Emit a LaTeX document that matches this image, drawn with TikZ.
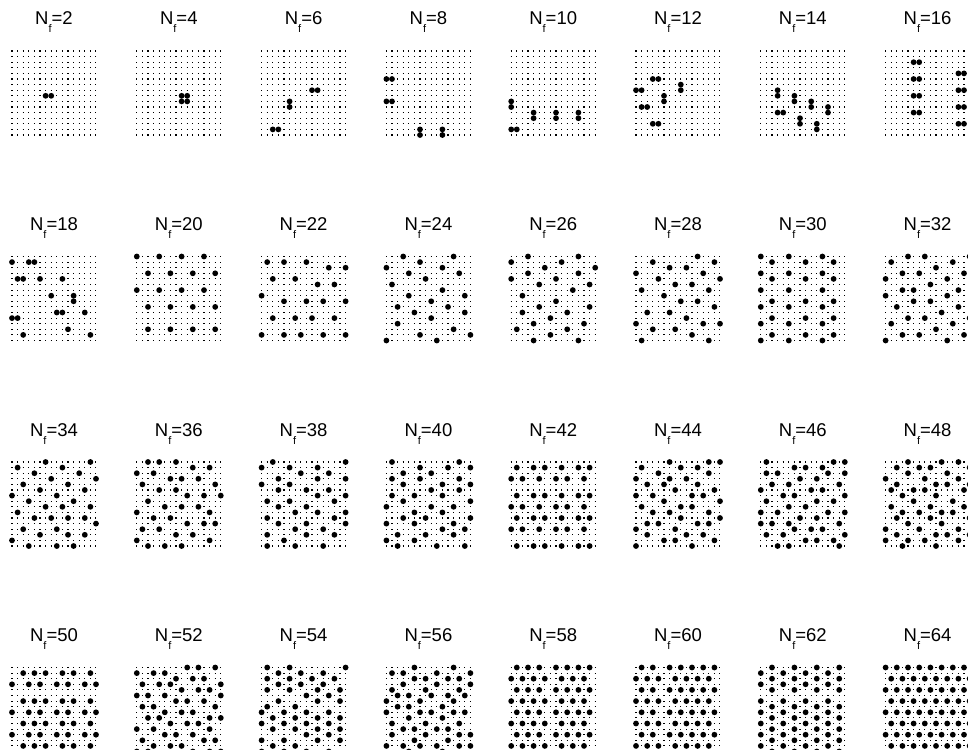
\documentclass[tikz,border=0pt]{standalone}
\usepackage{fontspec}
\setmainfont{Liberation Sans}
\begin{document}
\begin{tikzpicture}[x=1pt, y=-1pt,
    site/.style={line width=1.1pt, dash pattern=on 1.1pt off 4.5pt},
    flux/.style={fill=black},
    lbl/.style={font=\fontsize{18.5}{20}\selectfont, inner sep=0pt, anchor=base}]
    \useasboundingbox (0,0) rectangle (968,749);

    % Labels and 16x16 lattices
    \foreach \r in {0,...,3} {
        \foreach \c in {0,...,7} {
            \pgfmathtruncatemacro\n{16*\r+2*\c+2}
            \node[lbl] (nf\n) at ({54+124.8*\c},{25+205.5*\r}) {N\raisebox{-8pt}{\fontsize{11}{11}\selectfont f}=\n};
            \foreach \j in {0,...,15}
                \draw[site] ({11.45+124.8*\c},{51+205.5*\r+5.6*\j}) -- ++(85,0);
        }
    }

    % Flux positions: column/row/sites (i from the left, j from the top)
    \foreach \c/\r/\pts in {
        0/0/{6/8,7/8},
        1/0/{8/8,9/8,8/9,9/9},
        2/0/{2/14,3/14,5/9,5/10,9/7,10/7},
        3/0/{0/5,1/5,0/9,1/9,6/14,6/15,10/14,10/15},
        4/0/{0/9,0/10,0/14,1/14,4/11,4/12,8/11,8/12,12/11,12/12},
        5/0/{3/5,4/5,0/7,1/7,8/6,8/7,5/8,5/9,1/10,2/10,3/13,4/13},
        6/0/{3/7,3/8,6/8,6/9,9/9,9/10,12/10,12/11,3/11,4/11,7/12,7/13,10/13,10/14},
        7/0/{5/2,6/2,5/5,6/5,5/8,6/8,5/11,6/11,13/4,14/4,13/7,14/7,13/10,14/10,13/13,14/13},
        0/1/{0/1,3/1,4/1,1/4,2/4,5/4,9/4,7/7,11/7,11/8,8/10,9/10,13/10,0/11,1/11,10/13,2/14,14/14},
        1/1/{0/0,4/0,8/0,12/0,2/3,6/3,10/3,14/3,0/6,4/6,8/6,12/6,2/9,6/9,10/9,14/9,2/13,6/13,10/13,14/13},
        0/2/{6/0,14/0,1/1,9/1,4/2,12/2,7/3,15/3,2/4,10/4,5/5,13/5,0/6,8/6,3/7,11/7,6/8,9/8,14/8,1/9,4/10,7/10,10/10,13/10,15/11,2/12,8/12,5/13,10/13,13/13,0/14,3/15,8/15,11/15}} {
        \foreach \i/\j in \pts
            \fill[flux] ({12+124.8*\c+5.6*\i},{51+205.5*\r+5.6*\j}) circle (2.9pt);
    }

    % Denser fillings: triangular flux lattice pinned to the nearest site, column/row/angle/shift
    \foreach \c/\r/\t/\ox/\oy in {2/1/3/0.3/0.2, 3/1/20/0.1/0.4, 4/1/40/0.4/0.1, 5/1/12/0.2/0.3, 6/1/30/0.3/0.0, 7/1/45/0.1/0.2,
                                 1/2/8/0.2/0.4, 2/2/25/0.4/0.3, 3/2/35/0.1/0.1, 4/2/0/0.3/0.3, 5/2/15/0.2/0.1, 6/2/50/0.4/0.2, 7/2/18/0.1/0.3,
                                 0/3/0/0.2/0.2, 1/3/8/0.3/0.4, 2/3/28/0.1/0.2, 3/3/42/0.4/0.1, 4/3/0/0.1/0.3, 5/3/0/0.3/0.5, 6/3/30/0.5/0.2} {
        \pgfmathsetmacro\d{sqrt(512/(sqrt(3)*(16*\r+2*\c+2)))}
        \pgfmathtruncatemacro\K{ceil(13.2/\d)}
        \pgfmathtruncatemacro\Km{-\K}
        \foreach \p in {\Km,...,\K} {
            \foreach \q in {\Km,...,\K} {
                \pgfmathsetmacro\u{7.5+\ox+\d*(\p*cos(\t)+\q*cos(\t+60))}
                \pgfmathsetmacro\v{7.5+\oy+\d*(\p*sin(\t)+\q*sin(\t+60))}
                \pgfmathtruncatemacro\ok{(\u>-0.5)&&(\u<15.5)&&(\v>-0.5)&&(\v<15.5)}
                \ifnum\ok=1
                    \fill[flux] ({12+124.8*\c+5.6*round(\u)},{51+205.5*\r+5.6*round(\v)}) circle (2.9pt);
                \fi
            }
        }
    }

    % Quarter filling
    \foreach \j in {0,2,...,14} {
        \foreach \i in {0,2,...,14}
            \fill[flux] ({12+124.8*7+5.6*(\i+mod(\j/2,2))},{51+205.5*3+5.6*\j}) circle (2.9pt);
    }
\end{tikzpicture}
\end{document}
